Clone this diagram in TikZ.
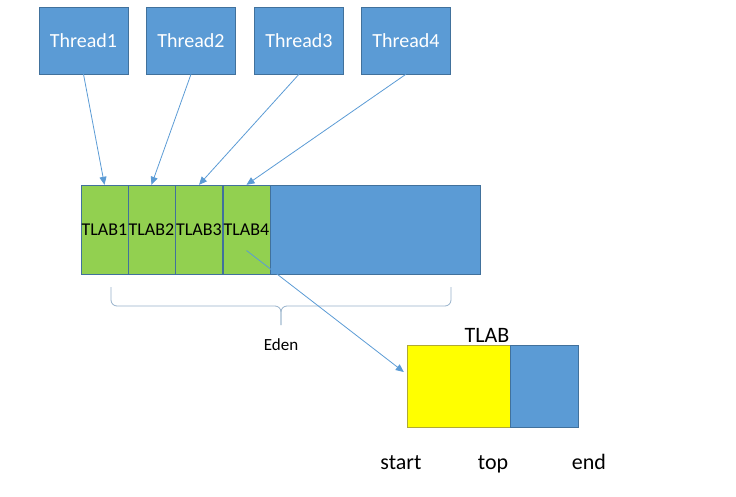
\documentclass[tikz,border=0pt]{standalone}
\usepackage{fontspec}
\setmainfont{Carlito}
\usetikzlibrary{calc,arrows.meta}

\definecolor{boxblue}{HTML}{5B9BD5}
\definecolor{boxedge}{HTML}{41719C}
\definecolor{tlabgreen}{HTML}{92D050}
\definecolor{usedyellow}{HTML}{FFFF00}

\tikzset{
  thread/.style={draw=boxedge, fill=boxblue, text=white, inner sep=0pt,
    minimum width=89pt, minimum height=67pt, font=\fontsize{20}{24}\selectfont},
  tlab/.style={draw=boxedge, fill=tlabgreen, inner sep=0pt,
    minimum width=47pt, minimum height=89pt, font=\fontsize{18}{21}\selectfont},
  freearea/.style={draw=boxedge, fill=boxblue, inner sep=0pt, minimum height=89pt},
  ptr/.style={draw=boxblue, line width=0.8pt, -{Triangle[length=8pt,width=7pt]}},
  bracket/.style={draw=boxblue!60!gray!70, line width=0.8pt, rounded corners=6pt},
  label/.style={font=\fontsize{22}{26}\selectfont, anchor=base}
}

\begin{document}
\begin{tikzpicture}[x=1pt,y=-1pt]
  \useasboundingbox (0,0) rectangle (736,497);

  % Threads
  \node[thread] (t1) at (83.5,40.5) {Thread1};
  \node[thread] (t2) at (191,40.5) {Thread2};
  \node[thread] (t3) at (299,40.5) {Thread3};
  \node[thread] (t4) at (406,40.5) {Thread4};

  % Eden with its TLABs
  \node[tlab] (tlab1) at (104.5,229.5) {TLAB1};
  \node[tlab] (tlab2) at (151.5,229.5) {TLAB2};
  \node[tlab] (tlab3) at (199,229.5) {TLAB3};
  \node[tlab] (tlab4) at (246.5,229.5) {TLAB4};
  \node[freearea, minimum width=210pt] (free) at (375,229.5) {};

  % Thread -> TLAB
  \draw[ptr] (t1.south) -- (tlab1.north);
  \draw[ptr] (t2.south) -- (tlab2.north);
  \draw[ptr] (t3.south) -- (tlab3.north);
  \draw[ptr] (t4.south) -- (tlab4.north);

  % Brace under Eden
  \coordinate (edenL) at (111,287);
  \coordinate (edenR) at (451,287);
  \coordinate (edenTip) at (281,325);
  \draw[bracket] (edenL) -- (111,306) -- (281,306) -- (edenTip);
  \draw[bracket] (edenR) -- (451,306) -- (281,306) -- (edenTip);
  \node[font=\fontsize{17}{20}\selectfont] (eden) at (281,345) {Eden};

  % One TLAB in detail
  \node[draw=olive!70, fill=usedyellow, inner sep=0pt,
    minimum width=103pt, minimum height=82pt] (used) at (458.5,386) {};
  \node[freearea, minimum width=68pt, minimum height=82pt] (rest) at (544,386) {};
  \node[font=\fontsize{22}{26}\selectfont] (name) at (487,335) {TLAB};
  \node[label] (start) at (401,469) {start};
  \node[label] (top) at (493,469) {top};
  \node[label] (end) at (589,469) {end};

  \coordinate (from) at ($(tlab4.center)+(0,21)$);
  \coordinate (to) at ($(used.west)+(-3,-14)$);
  \draw[ptr] (from) -- (to);
\end{tikzpicture}
\end{document}
